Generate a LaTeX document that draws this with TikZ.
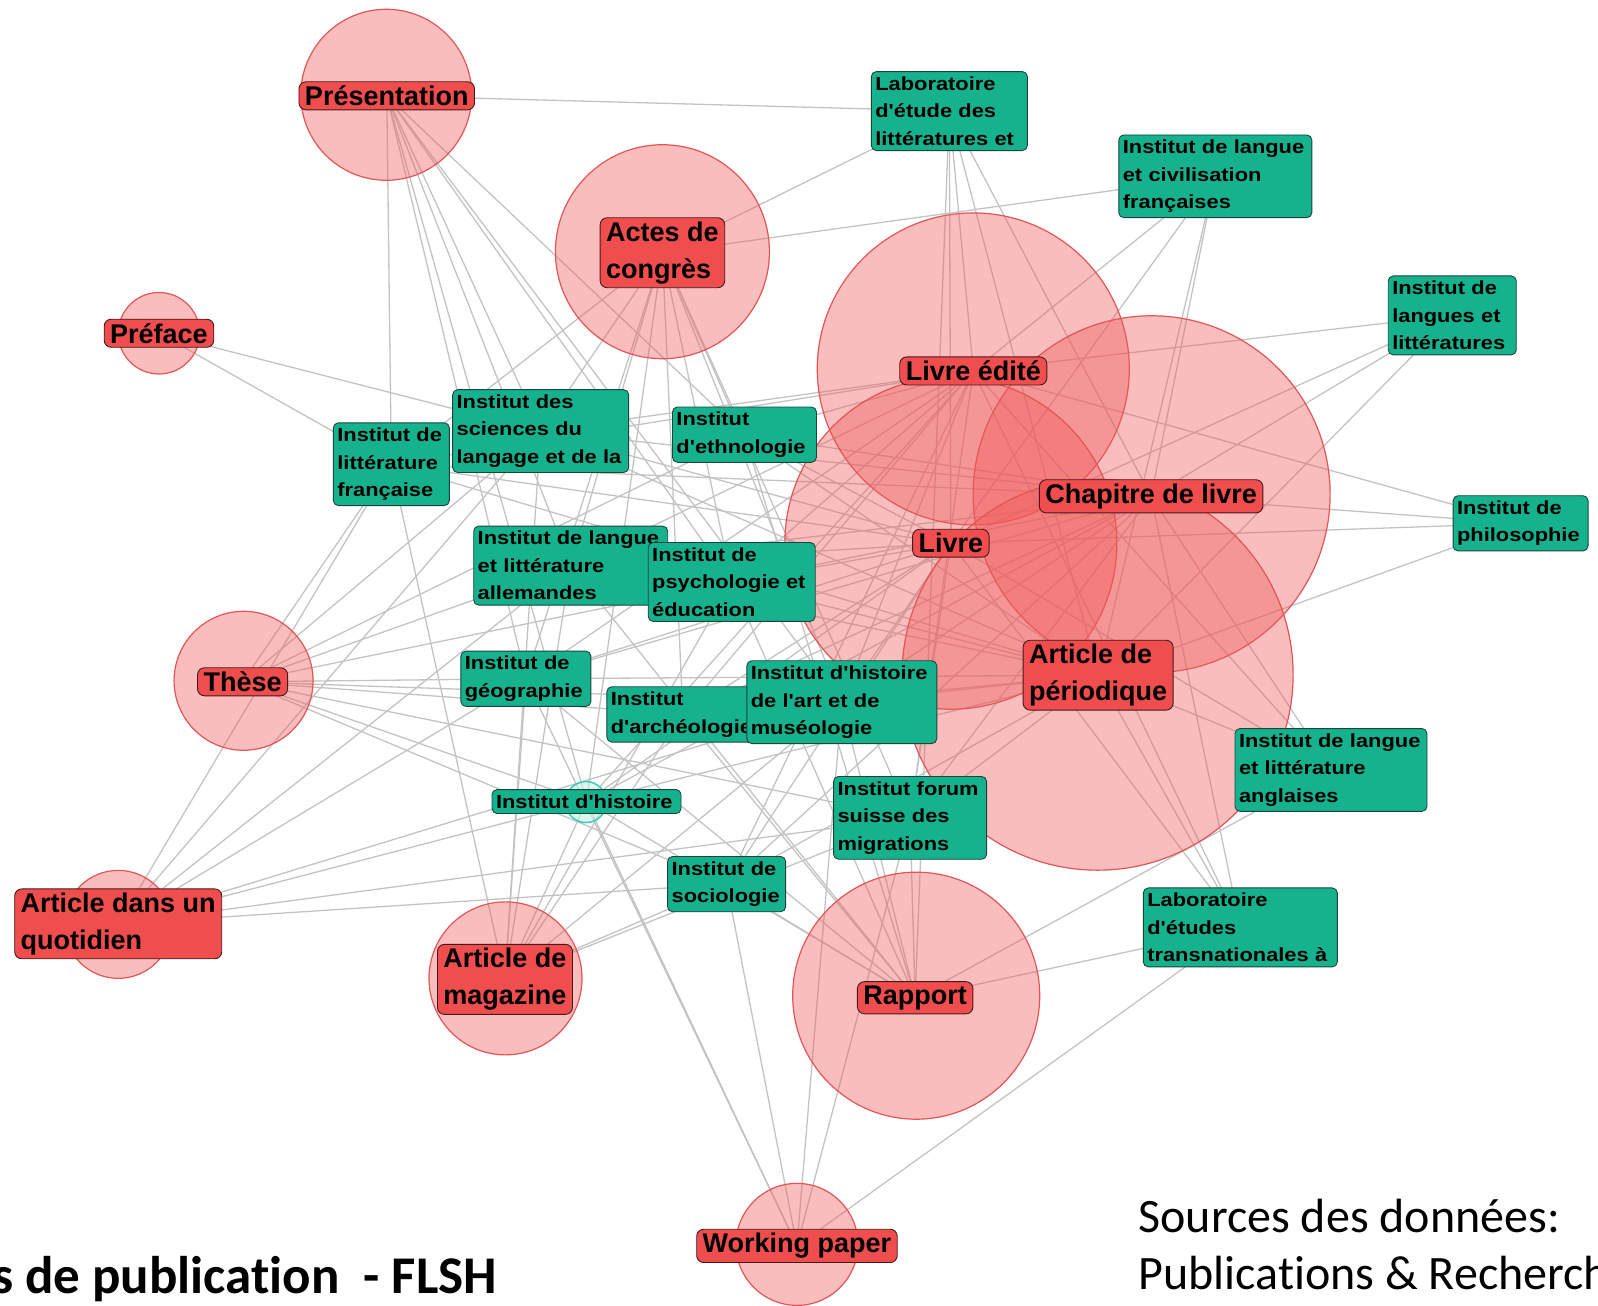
\documentclass[tikz,border=0pt]{standalone}
\usepackage{fontspec}
\newfontfamily\instfont[FakeStretch=1.15]{Liberation Sans}
\newfontfamily\typfont{Liberation Sans}
\newfontfamily\calfont[Ligatures=NoCommon]{Carlito}
\usetikzlibrary{positioning}
\usepackage{xcolor}
\definecolor{typfill}{RGB}{240,78,78}
\definecolor{typline}{RGB}{70,25,25}
\definecolor{bubfill}{RGB}{240,90,90}
\definecolor{bubline}{RGB}{228,84,84}
\definecolor{instfill}{RGB}{22,178,142}
\definecolor{instline}{RGB}{25,70,60}
\definecolor{linkgray}{RGB}{195,195,195}
\definecolor{histring}{RGB}{60,205,180}
\pgfdeclarelayer{edges}
\pgfdeclarelayer{bubbles}
\pgfsetlayers{edges,bubbles,main}

\begin{document}
\begin{tikzpicture}[x=1.01913pt, y=-1.01913pt,
    bubble/.style={circle, inner sep=0pt, draw=bubline, line width=1.2pt, fill=bubfill, fill opacity=0.4},
    typ/.style={draw=typline, fill=typfill, rounded corners=7pt, line width=0.9pt, align=left,
        inner xsep=6pt, inner ysep=4pt, font=\typfont\bfseries\fontsize{27}{36.7}\selectfont},
    inst/.style={draw=instline, fill=instfill, rounded corners=5pt, line width=0.9pt, align=left,
        inner xsep=4pt, inner ysep=5pt, font=\instfont\bfseries\fontsize{19}{27.5}\selectfont},
    link/.style={draw=linkgray, line width=1.3pt}]
\useasboundingbox (0,0) rectangle (1568,1281);

% circles behind the publication types
\begin{pgfonlayer}{bubbles}
    \node[bubble, minimum size=171pt] (presB) at (379,93) {};
    \node[bubble, minimum size=214pt] (actesB) at (650,247) {};
    \node[bubble, minimum size=81.5pt] (prefB) at (156,327) {};
    \node[bubble, minimum size=312pt] (ledB) at (955,362) {};
    \node[bubble, minimum size=357pt] (chapB) at (1130,485) {};
    \node[bubble, minimum size=332pt] (livreB) at (933,533) {};
    \node[bubble, minimum size=391pt] (aperB) at (1077,662) {};
    \node[bubble, minimum size=139pt] (theseB) at (239,668) {};
    \node[bubble, minimum size=108pt] (quotB) at (116,907) {};
    \node[bubble, minimum size=153pt] (magB) at (496,960) {};
    \node[bubble, minimum size=247pt] (rappB) at (899,977) {};
    \node[bubble, minimum size=122pt] (wpB) at (782,1221) {};
    \node[circle, inner sep=0pt, minimum size=41pt, draw=histring, line width=1.5pt,
        fill=histring!30, fill opacity=0.6] (ihistB) at (575,787) {};
\end{pgfonlayer}

% instituts
\node[inst, text width=148pt] (lel) at (931.5,109) {Laboratoire\\d'étude des\\littératures et};
\node[inst, text width=185pt] (ilcf) at (1192.5,173) {Institut de langue\\et civilisation\\françaises};
\node[inst, text width=120pt] (ill) at (1425,309.5) {Institut de\\langues et\\littératures};
\node[inst, text width=127pt] (iphi) at (1492,513.5) {Institut de\\philosophie};
\node[inst, text width=168pt] (isl) at (530.5,423) {Institut des\\sciences du\\langage et de la};
\node[inst, text width=108pt] (ilf) at (384,455.5) {Institut de\\littérature\\française};
\node[inst, text width=136pt] (ieth) at (730.5,426.5) {Institut\\d'ethnologie};
\node[inst, text width=186pt] (illa) at (560,555) {Institut de langue\\ et littérature\\allemandes};
\node[inst, text width=159pt] (ipe) at (718,571) {Institut de\\psychologie et\\éducation};
\node[inst, text width=122pt] (igeo) at (516,666) {Institut de\\géographie};
\node[inst, text width=144pt] (iarch) at (670,701) {Institut\\d'archéologie};
\node[inst, text width=182pt] (ihart) at (826,689) {Institut d'histoire\\de l'art et de\\muséologie};
\node[inst, text width=181pt] (ihist) at (575.5,786.5) {Institut d'histoire};
\node[inst, text width=145pt] (ifsm) at (893,802.5) {Institut forum\\suisse des\\migrations};
\node[inst, text width=110pt] (isoc) at (713,867.5) {Institut de\\sociologie};
\node[inst, text width=184pt] (illan) at (1306,755.5) {Institut de langue\\et littérature\\anglaises};
\node[inst, text width=186pt] (lett) at (1217,910) {Laboratoire\\d'études\\transnationales à};

% types de publication
\node[typ] (pres) at (379.5,94) {Présentation};
\node[typ] (actes) at (650,248) {Actes de\\congrès};
\node[typ] (pref) at (156,327) {Préface};
\node[typ] (led) at (955,364) {Livre édité};
\node[typ] (chap) at (1129.5,487) {Chapitre de livre};
\node[typ] (livre) at (933,533) {Livre};
\node[typ] (aper) at (1077.5,662.5) {Article de\\périodique};
\node[typ] (these) at (238,669) {Thèse};
\node[typ] (quot) at (116,906.5) {Article dans un\\quotidien};
\node[typ] (mag) at (495.5,961) {Article de\\magazine};
\node[typ] (rapp) at (898,979) {Rapport};
\node[typ] (wp) at (782,1222.5) {Working paper};

\node[anchor=base west, inner sep=0pt, font=\calfont\bfseries\fontsize{53}{60}\selectfont]
    (titre) at (-8,1269) {s de publication~ - FLSH};
\node[anchor=base west, inner sep=0pt, align=left, font=\calfont\fontsize{48}{57}\selectfont]
    (sources) at (1117,1265) {Sources des données:\\Publications \& Recherch};

\begin{pgfonlayer}{edges}
\foreach \t/\l in {
    pres/{lel,isl,ilf,ieth,illa,ipe,igeo,ihist,ihart},
    actes/{lel,ilcf,isl,ilf,ieth,illa,ipe,igeo,iarch,ihart,ihist,ifsm},
    pref/{isl,ilf},
    led/{lel,ilcf,ill,iphi,isl,ilf,ieth,illa,ipe,igeo,iarch,ihart,ihist,ifsm,isoc,illan,lett},
    chap/{lel,ilcf,ill,iphi,isl,ilf,ieth,illa,ipe,igeo,iarch,ihart,ihist,ifsm,isoc,illan,lett},
    livre/{lel,ilcf,ill,iphi,isl,ilf,ieth,illa,ipe,igeo,iarch,ihart,ihist,ifsm,isoc,illan,lett},
    aper/{lel,ilcf,ill,iphi,isl,ilf,ieth,illa,ipe,igeo,iarch,ihart,ihist,ifsm,isoc,illan,lett},
    these/{isl,ilf,ieth,illa,ipe,igeo,iarch,ihart,ihist,ifsm,isoc},
    quot/{ilf,isl,illa,igeo,ihist,isoc,ihart,ifsm},
    mag/{ilf,isl,illa,igeo,ihist,isoc,iarch,ihart,ifsm,ipe},
    rapp/{lel,ifsm,isoc,ihart,ihist,iarch,ipe,illa,igeo,ieth,lett,illan},
    wp/{ihist,isoc,ifsm,ihart,lett,igeo}}
    \foreach \i in \l
        \draw[link] (\t.center) -- (\i.center);
\end{pgfonlayer}
\end{tikzpicture}
\end{document}
